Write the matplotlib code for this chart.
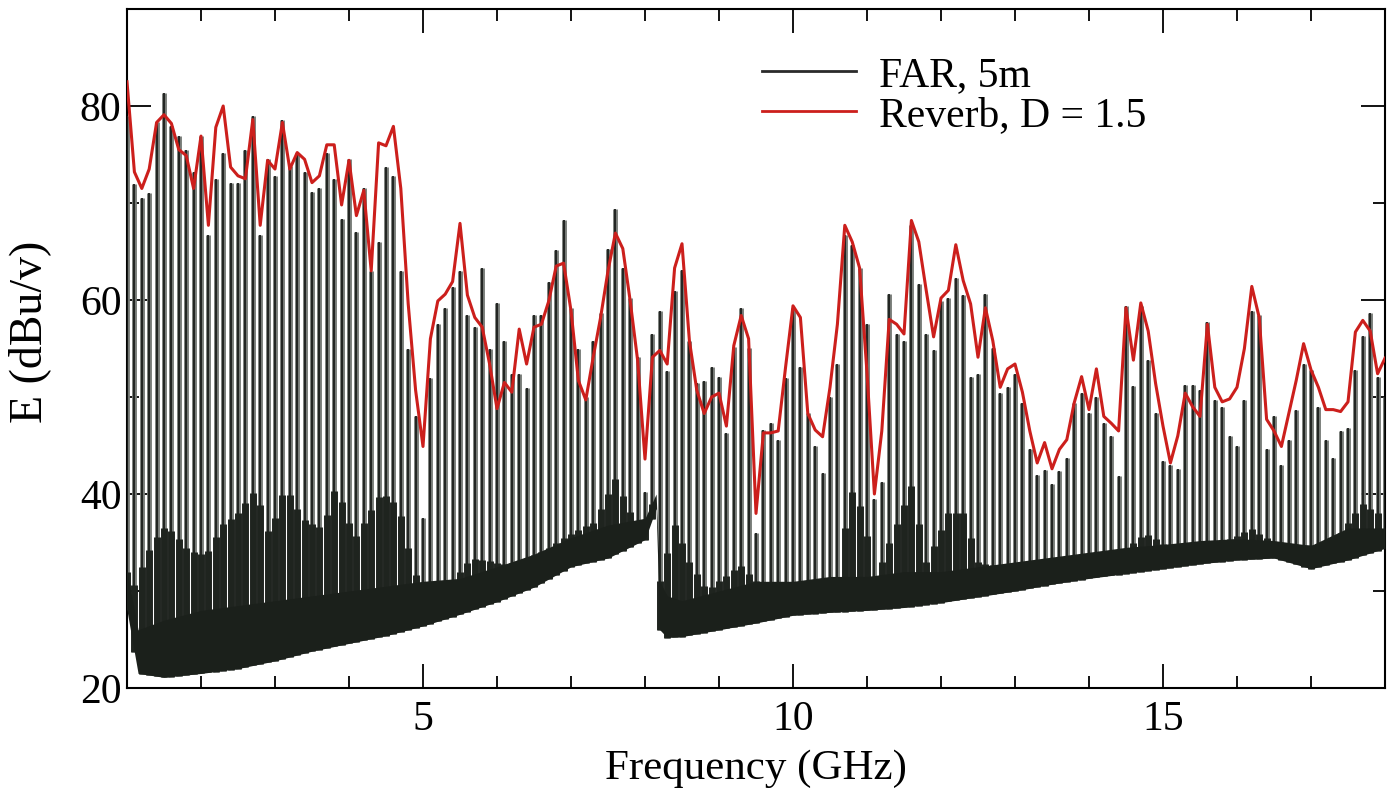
import matplotlib
matplotlib.use("Agg")
import matplotlib.pyplot as plt
from matplotlib.lines import Line2D
import numpy as np

plt.rcParams['font.family'] = ['Liberation Serif', 'DejaVu Serif']

# comb harmonics, one every 0.1 GHz
freq = np.round(np.arange(1.0, 18.01, 0.1), 1)

# red envelope (Reverb, D = 1.5), dBuV at each harmonic
reverb = [
    82.5, 73.2, 71.5, 73.5, 78.3, 79.1, 78.2, 75.5, 74.9, 71.5,   # 1.0 - 1.9
    76.9, 67.7, 77.8, 80.0, 73.7, 72.8, 72.5, 78.6, 67.7, 74.4,   # 2.x
    73.5, 78.3, 73.5, 75.2, 74.5, 72.1, 72.8, 76.0, 76.0, 69.8,   # 3.x
    74.4, 68.7, 71.3, 63.0, 76.2, 75.9, 77.9, 71.5, 59.6, 50.7,   # 4.x
    44.9, 56.0, 59.9, 60.6, 61.9, 67.9, 60.5, 58.2, 57.2, 53.4,   # 5.x
    48.8, 51.5, 50.5, 57.0, 53.4, 57.2, 57.5, 59.9, 63.5, 63.8,   # 6.x
    58.9, 51.7, 49.7, 54.1, 58.2, 63.0, 66.9, 65.3, 59.9, 53.8,   # 7.x
    43.6, 54.1, 54.8, 53.4, 63.3, 65.8, 55.8, 50.7, 48.3, 50.0,   # 8.x
    50.4, 47.0, 55.3, 58.4, 56.0, 38.0, 46.3, 46.3, 46.5, 53.1,   # 9.x
    59.4, 58.2, 48.3, 46.6, 45.9, 51.0, 57.5, 67.7, 66.0, 63.3,   # 10.x
    52.5, 40.0, 46.5, 58.0, 57.5, 56.5, 68.2, 66.0, 61.0, 56.2,   # 11.x
    60.2, 61.0, 65.7, 62.0, 59.6, 54.1, 59.2, 55.8, 51.0, 52.9,   # 12.x
    53.4, 50.5, 46.5, 43.2, 45.3, 42.6, 44.6, 45.6, 49.4, 52.1,   # 13.x
    48.7, 52.9, 48.0, 47.3, 46.5, 59.2, 53.8, 59.7, 56.8, 51.4,   # 14.x
    47.0, 43.2, 46.0, 50.4, 49.0, 48.0, 57.5, 51.0, 49.5, 49.8,   # 15.x
    51.0, 55.0, 61.4, 58.2, 47.7, 46.5, 44.9, 48.3, 51.7, 55.5,   # 16.x
    52.8, 51.0, 48.7, 48.7, 48.5, 49.5, 56.7, 57.9, 56.8, 52.4,   # 17.x
    54.0,                                                         # 18.0
]

# black trace (FAR, 5m): peak of each harmonic line
far_peak = [
    79.0, 72.0, 70.5, 71.0, 78.3, 81.3, 77.9, 76.9, 75.5, 73.2,
    76.9, 66.7, 72.5, 75.2, 72.1, 72.1, 75.5, 79.0, 66.7, 74.5,
    72.8, 78.6, 73.8, 75.2, 73.2, 71.1, 71.5, 75.2, 72.5, 68.4,
    74.5, 67.0, 71.5, 63.0, 66.0, 73.7, 72.8, 63.0, 55.0, 48.0,
    37.5, 52.0, 57.5, 59.2, 61.3, 63.0, 58.5, 57.2, 63.3, 55.0,
    59.7, 55.8, 52.4, 52.4, 50.9, 58.5, 58.5, 61.9, 65.2, 68.2,
    59.2, 55.0, 50.0, 55.8, 58.7, 65.3, 69.4, 63.3, 60.2, 54.1,
    40.2, 56.5, 58.9, 52.7, 60.9, 63.1, 55.8, 51.4, 51.6, 53.1,
    52.1, 46.3, 55.2, 59.2, 55.1, 36.0, 46.6, 47.3, 45.6, 52.0,
    59.2, 53.1, 48.3, 45.0, 42.2, 50.0, 53.4, 66.7, 65.7, 63.3,
    57.5, 39.5, 41.2, 60.6, 56.5, 55.8, 67.7, 61.6, 56.5, 54.8,
    59.9, 60.2, 62.3, 60.5, 52.1, 52.4, 60.6, 55.1, 50.4, 51.0,
    52.4, 49.4, 44.6, 42.0, 42.5, 41.0, 42.4, 43.7, 49.4, 50.4,
    48.3, 50.0, 47.3, 46.0, 41.9, 59.4, 51.1, 59.4, 53.8, 48.3,
    43.4, 43.0, 42.6, 51.2, 51.2, 50.7, 57.7, 49.7, 49.0, 46.0,
    45.0, 49.7, 58.9, 58.5, 44.6, 48.0, 43.0, 45.6, 48.7, 53.4,
    52.8, 49.0, 45.6, 43.7, 46.5, 46.8, 52.8, 56.3, 58.7, 52.1,
    50.0,
]

# noise floor: lower and upper edge of the solid band
floor_f = [1.0, 1.15, 1.5, 2.0, 2.5, 3.0, 3.5, 4.0, 4.5, 5.0, 5.5, 6.0, 6.5,
           7.0, 7.5, 8.0, 8.15, 8.2, 8.3, 8.5, 9.0, 9.5, 10.0, 10.5, 11.0,
           11.5, 12.0, 12.5, 13.0, 13.5, 14.0, 14.5, 15.0, 15.5, 16.0, 16.5,
           17.0, 17.5, 18.0]
floor_lo = [28.0, 21.5, 21.1, 21.5, 22.0, 22.8, 23.8, 24.6, 25.4, 26.4, 27.6,
            28.9, 30.4, 32.5, 33.4, 35.3, 38.5, 26.0, 25.2, 25.3, 26.0, 26.7,
            27.5, 27.8, 28.0, 28.3, 28.8, 29.4, 30.0, 30.7, 31.3, 31.8, 32.3,
            32.8, 33.2, 33.4, 32.3, 33.2, 34.4]
floor_hi = [32.0, 26.0, 27.0, 28.0, 28.5, 29.0, 29.5, 30.0, 30.5, 31.0, 31.3,
            32.5, 33.8, 35.5, 36.8, 37.5, 40.0, 31.0, 29.5, 29.0, 30.0, 31.0,
            31.0, 31.5, 31.5, 32.0, 32.0, 32.5, 33.0, 33.5, 34.0, 34.5, 34.8,
            35.2, 35.4, 35.2, 34.7, 36.5, 36.5]

# top of the dark skirt under the lines
skirt_f = [1.0, 1.08, 1.35, 1.53, 1.84, 2.07, 2.29, 2.52, 2.74, 2.92, 3.14,
           3.37, 3.64, 3.82, 4.08, 4.44, 4.67, 4.85, 5.07, 5.43, 5.65, 6.15,
           6.6, 7.04, 7.3, 7.5, 7.6, 7.75, 7.94, 8.15, 8.2, 8.4, 8.6, 8.84,
           9.28, 9.73, 10.2, 10.63, 10.75, 10.95, 11.1, 11.6, 11.8, 12.1,
           12.3, 12.5, 13.05, 13.5, 14.13, 14.4, 14.76, 15.03, 15.5, 15.92,
           16.19, 16.5, 16.9, 17.3, 17.7, 17.9, 18.0]
skirt_top = [32.0, 30.3, 35.1, 36.8, 34.1, 33.7, 36.8, 38.2, 40.5, 35.7, 40.8,
             37.4, 36.4, 40.8, 35.4, 40.2, 38.8, 32.7, 28.0, 31.3, 33.4, 32.7,
             34.0, 36.1, 37.0, 40.0, 41.5, 39.0, 35.7, 40.0, 31.0, 36.8, 33.0,
             30.0, 32.7, 29.3, 31.0, 30.3, 41.0, 38.0, 31.0, 40.8, 33.0, 38.0,
             38.0, 33.0, 32.0, 33.0, 34.0, 33.7, 36.0, 34.7, 35.0, 35.4, 36.4,
             35.0, 34.7, 35.0, 39.0, 38.0, 36.4]

fig = plt.figure(figsize=(13.88, 7.95), dpi=100)
ax = fig.add_axes([127 / 1388, 1 - 688 / 795, 1258 / 1388, 679 / 795])

base = np.interp(freq, floor_f, floor_lo)
skirt = np.interp(freq, skirt_f, skirt_top)
ax.vlines(freq, base, far_peak, color='#777b77', lw=3.5, zorder=2)
ax.vlines(freq, base, far_peak, color='#1a1d1a', lw=1.3, zorder=3)
ax.vlines(freq, base, skirt, color='#1f241f', lw=5.0, zorder=3)
ax.fill_between(floor_f, floor_lo, floor_hi, color='#1b201b', lw=0, zorder=4)
ax.plot(freq, reverb, color='#cc1f1c', lw=2.2, zorder=5)

ax.set_xlim(1, 18)
ax.set_ylim(20, 90)
ax.set_xticks([5, 10, 15])
ax.set_xticks(np.arange(2, 18), minor=True)
ax.set_yticks([20, 40, 60, 80])
ax.set_yticks([30, 50, 70], minor=True)
ax.tick_params(which='both', direction='in', top=True, right=True,
               width=1.3, labelsize=30)
ax.tick_params(which='major', length=17)
ax.tick_params(which='minor', length=8.5)
ax.tick_params(axis='x', pad=9)
ax.tick_params(axis='y', pad=4)
for s in ax.spines.values():
    s.set_linewidth(1.5)

ax.set_xlabel('Frequency (GHz)', fontsize=31)
ax.set_ylabel('E (dBu/v)', fontsize=33)
ax.xaxis.set_label_coords(0.5, -0.09)
ax.yaxis.set_label_coords(-0.06, 0.525)

handles = [Line2D([], [], color='#2a2a2a', lw=2.0),
           Line2D([], [], color='#cc1f1c', lw=2.0)]
ax.legend(handles, ['FAR, 5m', 'Reverb, D = 1.5'], loc='upper left',
          bbox_to_anchor=(0.505, 0.93), frameon=False, fontsize=30,
          handlelength=2.25, handletextpad=0.55, labelspacing=0.03,
          borderpad=0, borderaxespad=0)

fig.savefig('out.png', dpi=100)
